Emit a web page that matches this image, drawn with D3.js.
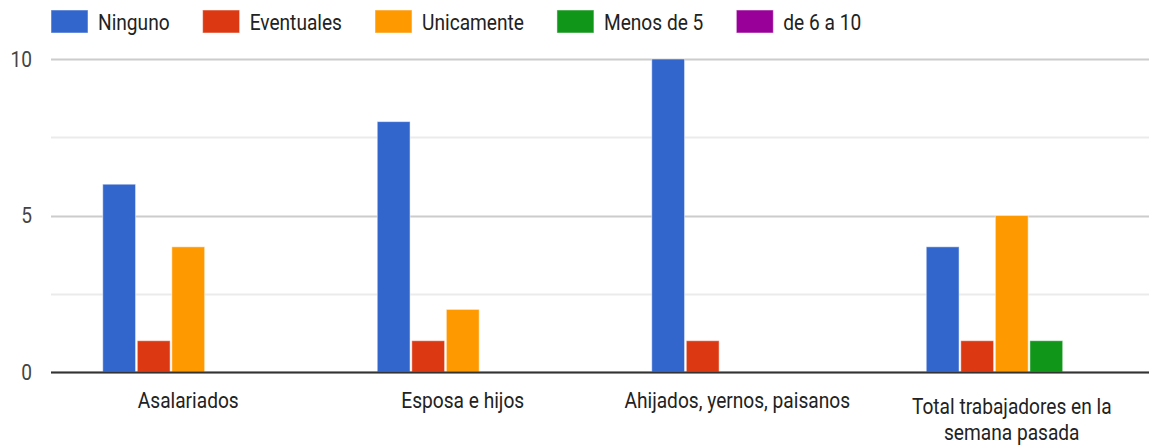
<!DOCTYPE html>
<html>
<head>
<meta charset="utf-8">
<script src="https://cdn.jsdelivr.net/npm/d3@7"></script>
<style>
  body { margin: 0; background: #fff; }
  text { font-family: Roboto, "Liberation Sans", Arial, sans-serif; }
</style>
</head>
<body>
<div id="chart"></div>
<script>
// data
const categories = ["Asalariados", "Esposa e hijos", "Ahijados, yernos, paisanos", "Total trabajadores en la semana pasada"];
const seriesNames = ["Ninguno", "Eventuales", "Unicamente", "Menos de 5", "de 6 a 10"];
const ninguno = [6, 8, 10, 4];
const eventuales = [1, 1, 1, 1];
const unicamente = [4, 2, 0, 5];
const menosDe5 = [0, 0, 0, 1];
const de6a10 = [0, 0, 0, 0];
const yTicks = [0, 5, 10];
const colors = ["#3366cc", "#dc3912", "#ff9900", "#109618", "#990099"];

const seriesValues = [ninguno, eventuales, unicamente, menosDe5, de6a10];

const width = 1149, height = 445;
const margin = { top: 59, right: 0, bottom: 73, left: 51 };
const sx = 0.87; // text in the picture is a bit squeezed horizontally
const fontSize = 22;

const svg = d3.select("#chart").append("svg")
  .attr("width", width)
  .attr("height", height);

const x0 = d3.scaleBand()
  .domain(categories)
  .range([margin.left, width - margin.right])
  .paddingInner(0.377)
  .paddingOuter(0.1885);

const x1 = d3.scaleBand()
  .domain(seriesNames)
  .range([0, x0.bandwidth()])
  .paddingInner(0.05);

const y = d3.scaleLinear()
  .domain([0, 10])
  .range([height - margin.bottom, margin.top]);

// gridlines
svg.append("g")
  .selectAll("line")
  .data(d3.range(0, 10.01, 2.5))
  .join("line")
  .attr("x1", margin.left)
  .attr("x2", width - margin.right)
  .attr("y1", (d) => Math.round(y(d)) + 0.5)
  .attr("y2", (d) => Math.round(y(d)) + 0.5)
  .attr("stroke", (d) => (d % 5 === 0 ? "#cccccc" : "#ebebeb"))
  .attr("stroke-width", 2);

// y labels
svg.append("g")
  .selectAll("text")
  .data(yTicks)
  .join("text")
  .attr("transform", (d) => `translate(32,${y(d)}) scale(${sx},1)`)
  .attr("text-anchor", "end")
  .attr("dy", "0.36em")
  .attr("font-size", fontSize)
  .attr("fill", "#444")
  .text((d) => d);

// bars
const groups = svg.append("g")
  .selectAll("g")
  .data(categories)
  .join("g")
  .attr("transform", (d) => `translate(${x0(d)},0)`);

groups.selectAll("rect")
  .data((c, i) => seriesNames.map((s, j) => ({ s, v: seriesValues[j][i], color: colors[j] })).filter((d) => d.v > 0))
  .join("rect")
  .attr("x", (d) => x1(d.s))
  .attr("y", (d) => y(d.v))
  .attr("width", x1.bandwidth())
  .attr("height", (d) => y(0) - y(d.v))
  .attr("fill", (d) => d.color)
  .attr("stroke", "#fff")
  .attr("stroke-opacity", 0.5)
  .attr("stroke-width", 1);

// baseline
svg.append("line")
  .attr("x1", margin.left)
  .attr("x2", width - margin.right)
  .attr("y1", y(0) + 0.5)
  .attr("y2", y(0) + 0.5)
  .attr("stroke", "#333")
  .attr("stroke-width", 2);

// category labels (wrap the long one like the original)
const labelLines = {
  "Total trabajadores en la semana pasada": ["Total trabajadores en la", "semana pasada"],
};
categories.forEach((c) => {
  const lines = labelLines[c] || [c];
  const cx = x0(c) + x0.bandwidth() / 2;
  const first = lines.length > 1 ? 414 : 408;
  lines.forEach((line, k) => {
    svg.append("text")
      .attr("transform", `translate(${cx},${first + k * 26}) scale(${sx},1)`)
      .attr("text-anchor", "middle")
      .attr("font-size", fontSize)
      .attr("fill", "#222")
      .text(line);
  });
});

// legend
let lx = 51;
seriesNames.forEach((s, i) => {
  svg.append("rect")
    .attr("x", lx)
    .attr("y", 10)
    .attr("width", 37)
    .attr("height", 23)
    .attr("fill", colors[i])
    .attr("stroke", "#fff")
    .attr("stroke-opacity", 0.5);
  const t = svg.append("text")
    .attr("transform", `translate(${lx + 47},22) scale(${sx},1)`)
    .attr("dy", "0.36em")
    .attr("font-size", fontSize)
    .attr("fill", "#222")
    .text(s);
  const w = t.node().getComputedTextLength() * sx;
  lx += 47 + w + 33;
});
</script>
</body>
</html>
